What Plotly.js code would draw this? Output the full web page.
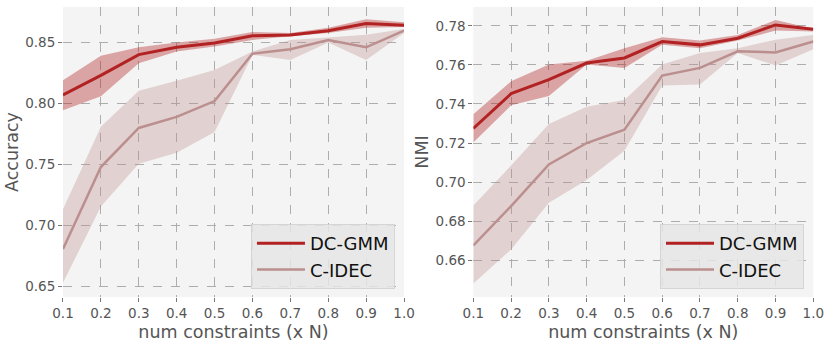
<!DOCTYPE html>
<html>
<head>
<meta charset="utf-8">
<script src="https://cdn.plot.ly/plotly-3.0.1.min.js"></script>
<style>html,body{margin:0;padding:0;background:#fff;}#chart{width:831px;height:345px;}</style>
</head>
<body>
<div id="chart"></div>
<script>
const xVals = [0.1, 0.2, 0.3, 0.4, 0.5, 0.6, 0.7, 0.8, 0.9, 1.0];

// Accuracy
const accDcMean  = [0.807, 0.823, 0.840, 0.846, 0.8495, 0.8555, 0.856, 0.8596, 0.8654, 0.864];
const accDcUpper = [0.819, 0.839, 0.846, 0.850, 0.853, 0.8585, 0.8577, 0.862, 0.869, 0.8665];
const accDcLower = [0.7945, 0.806, 0.833, 0.8426, 0.8467, 0.852, 0.855, 0.8577, 0.862, 0.8626];
const accCiMean  = [0.681, 0.748, 0.780, 0.789, 0.802, 0.8407, 0.8445, 0.852, 0.846, 0.8596];
const accCiUpper = [0.7134, 0.781, 0.8104, 0.8187, 0.8275, 0.8426, 0.852, 0.854, 0.8563, 0.861];
const accCiLower = [0.6533, 0.7156, 0.7506, 0.7596, 0.7767, 0.8398, 0.8357, 0.850, 0.8357, 0.8577];

// NMI
const nmiDcMean  = [0.7275, 0.7453, 0.7525, 0.761, 0.7636, 0.772, 0.7703, 0.7737, 0.7805, 0.7783];
const nmiDcUpper = [0.7347, 0.7517, 0.7602, 0.7622, 0.7686, 0.7742, 0.7725, 0.7754, 0.783, 0.7786];
const nmiDcLower = [0.7203, 0.7393, 0.7441, 0.7602, 0.7585, 0.7703, 0.7686, 0.7725, 0.7776, 0.7771];
const nmiCiMean  = [0.6675, 0.6877, 0.709, 0.720, 0.7268, 0.7546, 0.7585, 0.767, 0.7664, 0.772];
const nmiCiUpper = [0.688, 0.7085, 0.7297, 0.7386, 0.742, 0.7602, 0.7661, 0.7686, 0.7729, 0.7754];
const nmiCiLower = [0.648, 0.6655, 0.6894, 0.701, 0.7161, 0.7495, 0.750, 0.7661, 0.7597, 0.7681];

const seriesNames = ['DC-GMM', 'C-IDEC'];
const xTitle = 'num constraints (x N)';
const yTitles = ['Accuracy', 'NMI'];

const dcLine = '#b22222';
const ciLine = '#bc8f8f';
const dcFill = 'rgba(178,34,34,0.38)';
const ciFill = 'rgba(188,143,143,0.35)';

function band(upper, lower, color, xa, ya) {
  return {
    x: xVals.concat(xVals.slice().reverse()),
    y: upper.concat(lower.slice().reverse()),
    fill: 'toself', fillcolor: color, mode: 'none', type: 'scatter',
    hoverinfo: 'skip', showlegend: false, xaxis: xa, yaxis: ya, line: {width: 0}
  };
}
function line(y, color, w, name, xa, ya, leg) {
  return {
    x: xVals, y: y, mode: 'lines', type: 'scatter', name: name,
    line: {color: color, width: w}, xaxis: xa, yaxis: ya, legend: leg
  };
}

const data = [
  band(accCiUpper, accCiLower, ciFill, 'x', 'y'),
  band(accDcUpper, accDcLower, dcFill, 'x', 'y'),
  line(accDcMean, dcLine, 3, seriesNames[0], 'x', 'y', 'legend'),
  line(accCiMean, ciLine, 2.5, seriesNames[1], 'x', 'y', 'legend'),
  band(nmiCiUpper, nmiCiLower, ciFill, 'x2', 'y2'),
  band(nmiDcUpper, nmiDcLower, dcFill, 'x2', 'y2'),
  line(nmiDcMean, dcLine, 3, seriesNames[0], 'x2', 'y2', 'legend2'),
  line(nmiCiMean, ciLine, 2.5, seriesNames[1], 'x2', 'y2', 'legend2')
];

const tickFont = {family: 'DejaVu Sans', size: 13.5, color: '#555555'};
const titleFont = {family: 'DejaVu Sans', size: 17.5, color: '#555555'};
const grid = {showgrid: true, gridcolor: '#adadad', griddash: 'dash', gridwidth: 1,
  zeroline: false, showline: false, ticks: 'outside', ticklen: 4, tickcolor: '#777777',
  tickfont: tickFont};

const legendCommon = {
  bgcolor: 'rgba(229,229,229,0.85)', bordercolor: 'rgba(210,210,210,0.9)', borderwidth: 1,
  font: {family: 'DejaVu Sans', size: 18, color: '#111111'},
  xanchor: 'right', yanchor: 'bottom', tracegroupgap: 0, itemwidth: 48
};

const layout = {
  width: 831, height: 345,
  margin: {l: 0, r: 0, t: 0, b: 0},
  paper_bgcolor: '#ffffff', plot_bgcolor: '#f4f4f4',
  xaxis: Object.assign({domain: [0.0758, 0.4862], range: [0.1, 1.0], dtick: 0.1, tick0: 0.1,
    tickformat: '.1f', title: {text: xTitle, font: titleFont, standoff: 5}}, grid),
  yaxis: Object.assign({domain: [0.1391, 0.9797], range: [0.6416, 0.879], dtick: 0.05, tick0: 0.65,
    tickformat: '.2f', title: {text: yTitles[0], font: titleFont, standoff: 2}}, grid),
  xaxis2: Object.assign({domain: [0.5696, 0.9787], range: [0.1, 1.0], dtick: 0.1, tick0: 0.1,
    tickformat: '.1f', anchor: 'y2', title: {text: xTitle, font: titleFont, standoff: 5}}, grid),
  yaxis2: Object.assign({domain: [0.1391, 0.9797], range: [0.6411, 0.7897], dtick: 0.02, tick0: 0.66,
    tickformat: '.2f', anchor: 'x2', title: {text: yTitles[1], font: titleFont, standoff: 2}}, grid),
  legend: Object.assign({x: 0.4753, y: 0.1623}, legendCommon),
  legend2: Object.assign({x: 0.9675, y: 0.1623}, legendCommon),
  showlegend: true
};

Plotly.newPlot('chart', data, layout, {displayModeBar: false, staticPlot: true});
</script>
</body>
</html>
